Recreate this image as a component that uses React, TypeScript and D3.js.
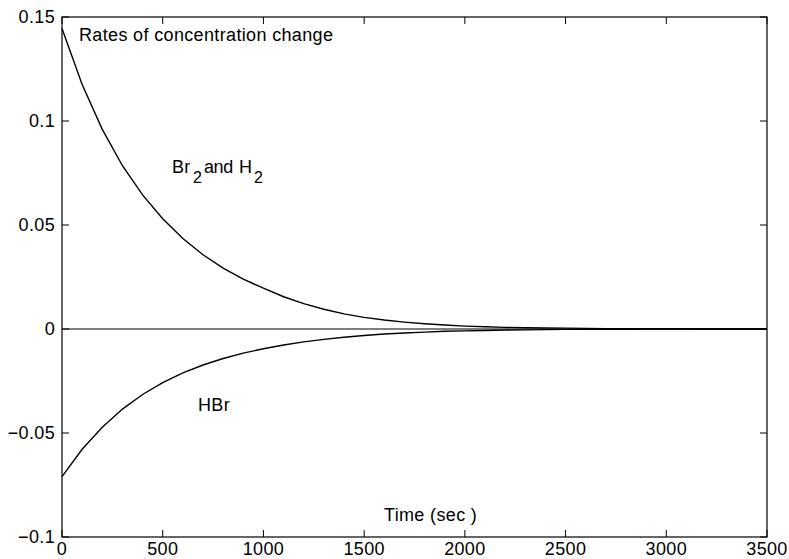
import React from 'react';
import * as d3 from 'd3';

// time samples (sec) and rates
const times = [0, 100, 200, 300, 400, 500, 600, 700, 800, 900, 1000, 1100, 1200, 1300, 1400, 1500, 1600, 1700,
  1800, 1900, 2000, 2100, 2200, 2300, 2400, 2500, 2600, 2700, 2800, 2900, 3000, 3100, 3200, 3300, 3400, 3500];
const br2Rate = [0.1445, 0.1175, 0.0960, 0.0785, 0.0645, 0.0530, 0.0435, 0.0357, 0.0293, 0.0240, 0.0196, 0.0155,
  0.0122, 0.0095, 0.0073, 0.0056, 0.0043, 0.0033, 0.0025, 0.0019, 0.0014, 0.0011, 0.0008, 0.0006, 0.0005, 0.0004,
  0.0003, 0.0002, 0.0002, 0.0001, 0.0001, 0.0001, 0, 0, 0, 0];
const hbrRate = [-0.0710, -0.0578, -0.0472, -0.0385, -0.0315, -0.0258, -0.0211, -0.0173, -0.0142, -0.0116, -0.0095,
  -0.0077, -0.0062, -0.0050, -0.0040, -0.0031, -0.0024, -0.0019, -0.0015, -0.0011, -0.0009, -0.0007, -0.0005,
  -0.0004, -0.0003, -0.0002, -0.0002, -0.0001, -0.0001, 0, 0, 0, 0, 0, 0, 0];
const xTicks = [0, 500, 1000, 1500, 2000, 2500, 3000, 3500];
const yTicks = [-0.1, -0.05, 0, 0.05, 0.1, 0.15];

const W = 789;
const H = 559;
const left = 62, right = 767, top = 17, bottom = 537;

const App = () => {
  const x = d3.scaleLinear().domain([0, 3500]).range([left, right]);
  const y = d3.scaleLinear().domain([-0.1, 0.15]).range([bottom, top]);
  const line = d3.line<number>().x((d, i) => x(times[i])).y(d => y(d));
  const font = 'Liberation Sans, Arial, Helvetica, sans-serif';
  const tickLen = 7;

  return (
    <svg width={W} height={H} style={{ position: 'absolute', left: 0, top: 0, background: '#fff' }}
      fontFamily={font} fontSize={18} letterSpacing={0.35}>
      <rect x={left} y={top} width={right - left} height={bottom - top} fill="none" stroke="#000" strokeWidth={1.2} />
      {xTicks.map(t => (
        <g key={'x' + t}>
          <line x1={x(t)} x2={x(t)} y1={bottom} y2={bottom - tickLen} stroke="#000" />
          <line x1={x(t)} x2={x(t)} y1={top} y2={top + tickLen} stroke="#000" />
          <text x={x(t)} y={555} textAnchor="middle">{t}</text>
        </g>
      ))}
      {yTicks.map(t => (
        <g key={'y' + t}>
          <line x1={left} x2={left + tickLen} y1={y(t)} y2={y(t)} stroke="#000" />
          <line x1={right} x2={right - tickLen} y1={y(t)} y2={y(t)} stroke="#000" />
          <text x={55} y={y(t)} dy="0.35em" textAnchor="end">{t === 0 ? '0' : String(t).replace('-', '\u2212')}</text>
        </g>
      ))}
      <line x1={x(0)} x2={x(3500)} y1={y(0)} y2={y(0)} stroke="#000" strokeWidth={1.2} />
      <path d={line(br2Rate) || ''} fill="none" stroke="#000" strokeWidth={1.4} />
      <path d={line(hbrRate) || ''} fill="none" stroke="#000" strokeWidth={1.4} />
      <text x={79} y={41}>Rates of concentration change</text>
      <text x={172} y={173}>Br</text>
      <text x={193} y={183} fontSize={16}>2</text>
      <text x={204} y={173} letterSpacing={-0.4}>and</text>
      <text x={239} y={173}>H</text>
      <text x={254} y={183} fontSize={16}>2</text>
      <text x={198} y={411}>HBr</text>
      <text x={384} y={521}>Time (sec )</text>
    </svg>
  );
};

export default App;
